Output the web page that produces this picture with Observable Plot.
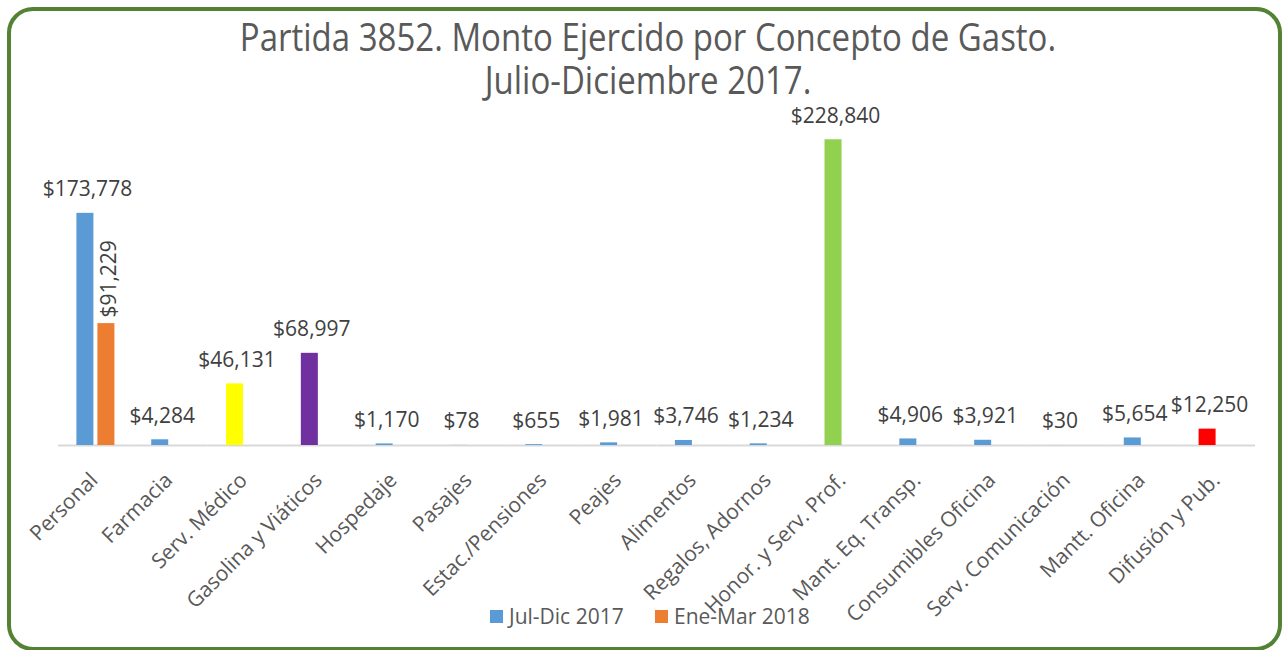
<!DOCTYPE html>
<html>
<head>
<meta charset="utf-8">
<script src="https://cdn.jsdelivr.net/npm/d3@7"></script>
<script src="https://cdn.jsdelivr.net/npm/@observablehq/plot@0.6"></script>
<style>
  body { margin: 0; background: #fff; font-family: "Open Sans", sans-serif; }
  #wrap { position: relative; width: 1283px; height: 650px; overflow: hidden; background: #fff; }
  #frame { position: absolute; left: 7px; top: 7px; width: 1267px; height: 636px;
           border: 4px solid #548235; border-radius: 26px; }
  .title { position: absolute; left: 0; width: 1296px; text-align: center;
           font-size: 33px; line-height: 34px; height: 34px; color: #595959; z-index: 2; white-space: nowrap;
           transform-origin: 50% 31px; transform: scaleY(1.17); }
  #chart { position: absolute; left: 0; top: 0; z-index: 1; }
  .key { position: absolute; top: 602px; display: flex; align-items: center;
         font-size: 21px; color: #595959; z-index: 2; white-space: nowrap; }
  .sw { width: 13px; height: 13px; margin-right: 6px; }
</style>
</head>
<body>
<div id="wrap">
  <div id="frame"></div>
  <div class="title" style="top:22px">Partida 3852. Monto Ejercido por Concepto de Gasto.</div>
  <div class="title" style="top:65px">Julio-Diciembre 2017.</div>
  <div id="chart"></div>
</div>
<script>
const categories = ["Personal", "Farmacia", "Serv. Médico", "Gasolina y Viáticos", "Hospedaje",
  "Pasajes", "Estac./Pensiones", "Peajes", "Alimentos", "Regalos, Adornos",
  "Honor. y Serv. Prof.", "Mant. Eq. Transp.", "Consumibles Oficina", "Serv. Comunicación",
  "Mantt. Oficina", "Difusión y Pub."];
const seriesNames = ["Jul-Dic 2017", "Ene-Mar 2018"];
const julDic2017 = [173778, 4284, 46131, 68997, 1170, 78, 655, 1981, 3746, 1234, 228840, 4906, 3921, 30, 5654, 12250];
const eneMar2018 = [91229, null, null, null, null, null, null, null, null, null, null, null, null, null, null, null];

// styling (kept separate from data)
const seriesColors = ["#5B9BD5", "#ED7D31"];
const pointColors = {
  "Serv. Médico": "#FFFF00",
  "Gasolina y Viáticos": "#7030A0",
  "Honor. y Serv. Prof.": "#92D050",
  "Difusión y Pub.": "#FF0000"
};
const legendLeft = [490, 655];

const rows = [];
categories.forEach((c, i) => {
  rows.push({cat: c, series: seriesNames[0], value: julDic2017[i]});
  if (eneMar2018[i] != null) rows.push({cat: c, series: seriesNames[1], value: eneMar2018[i]});
});
const fillOf = d => d.series === seriesNames[0] ? (pointColors[d.cat] ?? seriesColors[0]) : seriesColors[1];
const fmt = d3.format("$,.0f");

const chart = Plot.plot({
  width: 1283,
  height: 600,
  marginLeft: 58,
  marginRight: 28,
  marginTop: 111,
  marginBottom: 155,
  style: {background: "transparent", fontFamily: "Open Sans", overflow: "visible"},
  fx: {domain: categories, padding: 0, axis: null, round: false},
  x: {domain: seriesNames, paddingInner: 0.19, paddingOuter: 0.876, axis: null, round: false},
  y: {domain: [0, 250000], axis: null},
  color: {type: "identity"},
  marks: [
    Plot.ruleY([0], {stroke: "#D9D9D9", strokeWidth: 2}),
    Plot.barY(rows, {fx: "cat", x: "series", y: "value", fill: fillOf}),
    Plot.text(rows.filter(d => d.series === seriesNames[0]), {
      fx: "cat", x: "series", y: "value", text: d => fmt(d.value),
      lineAnchor: "bottom", dy: -17, dx: 2, fill: "#404040", fontSize: 21
    }),
    Plot.text(rows.filter(d => d.series === seriesNames[1]), {
      fx: "cat", x: "series", y: "value", text: d => fmt(d.value),
      rotate: -90, textAnchor: "start", lineAnchor: "middle", dy: -6, dx: 3,
      fill: "#404040", fontSize: 21
    }),
    Plot.text(categories, {
      fx: d => d, text: d => d, frameAnchor: "bottom", rotate: -45,
      textAnchor: "end", lineAnchor: "bottom", dx: 3, dy: 36,
      fill: "#595959", fontSize: 21
    })
  ]
});
document.getElementById("chart").appendChild(chart);

const wrap = document.getElementById("wrap");
seriesNames.forEach((s, i) => {
  const k = document.createElement("div");
  k.className = "key";
  k.style.left = legendLeft[i] + "px";
  const sw = document.createElement("div");
  sw.className = "sw";
  sw.style.background = seriesColors[i];
  const t = document.createElement("span");
  t.textContent = s;
  k.appendChild(sw); k.appendChild(t);
  wrap.appendChild(k);
});
</script>
</body>
</html>
